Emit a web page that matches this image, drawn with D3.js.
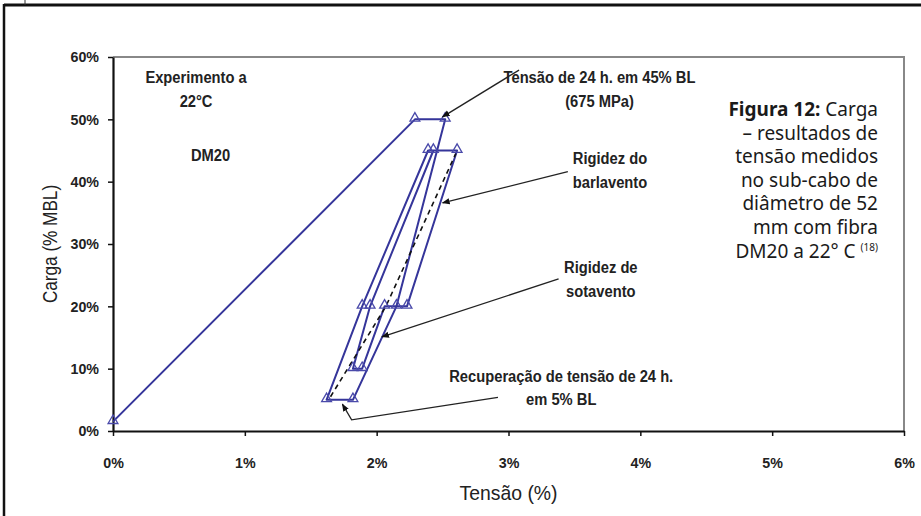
<!DOCTYPE html>
<html>
<head>
<meta charset="utf-8">
<script src="https://cdn.jsdelivr.net/npm/d3@7"></script>
<style>
  body { margin: 0; background: #fff; }
  svg { display: block; }
  .chart text { font-family: "Liberation Sans", Arial, sans-serif; fill: #222; }
  .caption text { font-family: "Noto Sans", "Open Sans", sans-serif; fill: #1a1a1a; }
</style>
</head>
<body>
<div id="container"></div>
<script>
/* CONSTANTS AND GLOBALS */
const width = 921;
const height = 516;
const margin = { top: 57, bottom: 85, left: 113, right: 17 };
const squeeze = 0.92; // slight horizontal squeeze of the chart lettering

/* DATA */
// load-strain path (strain %, load % MBL), in test order
const strain = [0.00, 2.29, 2.52, 2.15, 1.82, 1.62, 1.89, 2.39, 2.61, 2.23, 2.06, 1.89, 1.82, 1.95, 2.43];
const load   = [1.5, 50, 50, 20, 5, 5, 20, 45, 45, 20, 20, 10, 10, 20, 45];

// dashed stiffness fit
const fitStrain = [1.65, 2.07, 2.60];
const fitLoad   = [5.5, 20, 44.5];

const xTicks = [0, 1, 2, 3, 4, 5, 6];
const yTicks = [0, 10, 20, 30, 40, 50, 60];

const captionLines = [
  "– resultados de",
  "tensão medidos",
  "no sub-cabo de",
  "diâmetro de 52",
  "mm com fibra"
];

/* SCALES */
const xScale = d3.scaleLinear()
  .domain([0, 6])
  .range([margin.left, width - margin.right]);

const yScale = d3.scaleLinear()
  .domain([0, 60])
  .range([height - margin.bottom, margin.top]);

const svg = d3.select("#container")
  .append("svg")
  .attr("width", width)
  .attr("height", height);

svg.append("defs")
  .append("marker")
  .attr("id", "arrow")
  .attr("viewBox", "0 0 10 10")
  .attr("refX", 9)
  .attr("refY", 5)
  .attr("markerWidth", 6)
  .attr("markerHeight", 6)
  .attr("orient", "auto")
  .append("path")
  .attr("d", "M0,1 L10,5 L0,9 Z")
  .attr("fill", "#111");

// page frame
svg.append("line").attr("x1", 4).attr("x2", width).attr("y1", 5).attr("y2", 5)
  .attr("stroke", "#111").attr("stroke-width", 3);
svg.append("line").attr("x1", 4).attr("x2", 4).attr("y1", 4).attr("y2", height)
  .attr("stroke", "#111").attr("stroke-width", 2.5);
svg.append("line").attr("x1", 25).attr("x2", 25).attr("y1", 0).attr("y2", 5)
  .attr("stroke", "#333").attr("stroke-width", 1);

const chart = svg.append("g").attr("class", "chart");

// squeezed text helper
function note(parent, x, y, lines, size, weight, step, sx) {
  const g = parent.append("g")
    .attr("transform", `translate(${x},${y}) scale(${sx},1)`);
  const t = g.append("text")
    .attr("text-anchor", "middle")
    .style("font-size", size + "px")
    .style("font-weight", weight);
  lines.forEach((ln, i) => {
    t.append("tspan").attr("x", 0).attr("dy", i === 0 ? 0 : step).text(ln);
  });
  return g;
}

// plot border (top/right grey)
chart.append("path")
  .attr("d", `M${xScale(0)},${yScale(60)} H${xScale(6)} V${yScale(0)}`)
  .attr("fill", "none")
  .attr("stroke", "#888")
  .attr("stroke-width", 2);

/* AXES */
const xAxis = chart.append("g")
  .attr("transform", `translate(0,${yScale(0)})`)
  .call(d3.axisBottom(xScale).tickValues(xTicks).tickFormat(d => d + "%").tickSize(5).tickSizeOuter(0).tickPadding(21));

const yAxis = chart.append("g")
  .attr("transform", `translate(${xScale(0)},0)`)
  .call(d3.axisLeft(yScale).tickValues(yTicks).tickFormat(d => d + "%").tickSize(5).tickSizeOuter(0).tickPadding(10));

[xAxis, yAxis].forEach(ax => {
  ax.select(".domain").attr("stroke", "#111").attr("stroke-width", 2.2);
  ax.selectAll(".tick line").attr("stroke", "#111").attr("stroke-width", 1.5);
  ax.selectAll(".tick text")
    .attr("fill", "#222")
    .attr("transform", `scale(${squeeze},1)`)
    .style("font-family", '"Liberation Sans", Arial, sans-serif')
    .style("font-size", "15.5px")
    .style("font-weight", "bold");
});
yAxis.selectAll(".tick text").attr("x", -14 / squeeze);

note(chart, (xScale(0) + xScale(6)) / 2, 500, ["Tensão (%)"], 20, "normal", 0, 0.97);

chart.append("g")
  .attr("transform", `translate(57,${(yScale(0) + yScale(60)) / 2}) rotate(-90) scale(0.88,1)`)
  .append("text")
  .attr("text-anchor", "middle")
  .style("font-size", "19.5px")
  .text("Carga (% MBL)");

/* MARKS */
const pts = strain.map((s, i) => ({ s, l: load[i] }));

chart.append("path")
  .datum(pts)
  .attr("fill", "none")
  .attr("stroke", "#35359a")
  .attr("stroke-width", 2)
  .attr("stroke-linejoin", "round")
  .attr("d", d3.line().x(d => xScale(d.s)).y(d => yScale(d.l)));

chart.append("path")
  .datum(fitStrain.map((s, i) => ({ s, l: fitLoad[i] })))
  .attr("fill", "none")
  .attr("stroke", "#111")
  .attr("stroke-width", 1.6)
  .attr("stroke-dasharray", "5,4")
  .attr("d", d3.line().x(d => xScale(d.s)).y(d => yScale(d.l)));

chart.selectAll(".tri")
  .data(pts)
  .join("path")
  .attr("class", "tri")
  .attr("transform", d => `translate(${xScale(d.s)},${yScale(d.l) - 1})`)
  .attr("d", d3.symbol(d3.symbolTriangle, 42))
  .attr("fill", "none")
  .attr("stroke", "#4a4aaa")
  .attr("stroke-width", 1.3);

/* ANNOTATIONS */
// text anchors and arrow paths in data units (strain %, load %)
const notes = [
  { lines: ["Experimento a", "22°C"], s: 0.63, l: 55.8, arrow: null },
  { lines: ["DM20"], s: 0.74, l: 43.3, arrow: null },
  { lines: ["Tensão de 24 h. em 45% BL", "(675 MPa)"], s: 3.69, l: 55.8,
    arrow: [[3.08, 57.9], [2.50, 50.4]] },
  { lines: ["Rigidez do", "barlavento"], s: 3.77, l: 42.8,
    arrow: [[3.45, 41.6], [2.50, 36.6]] },
  { lines: ["Rigidez de", "sotavento"], s: 3.70, l: 25.3,
    arrow: [[3.38, 24.4], [2.04, 15.1]] },
  { lines: ["Recuperação de tensão de 24 h.", "em 5% BL"], s: 3.40, l: 7.9,
    arrow: [[2.92, 5.4], [1.81, 1.8], [1.74, 4.3]] }
];

notes.forEach(n => {
  note(chart, xScale(n.s), yScale(n.l), n.lines, 16, "bold", 23.5, squeeze);
  if (n.arrow) {
    chart.append("path")
      .attr("d", d3.line()(n.arrow.map(p => [xScale(p[0]), yScale(p[1])])))
      .attr("fill", "none")
      .attr("stroke", "#222")
      .attr("stroke-width", 1.3)
      .attr("marker-end", "url(#arrow)");
  }
});

/* CAPTION */
const cap = svg.append("g").attr("class", "caption");
const capX = 878;
const capY0 = 116;
const capStep = 23.6;
const capSize = 19;

const first = cap.append("text")
  .attr("x", capX).attr("y", capY0)
  .attr("text-anchor", "end")
  .style("font-size", capSize + "px");
first.append("tspan").style("font-weight", "bold").text("Figura 12:");
first.append("tspan").text(" Carga");

captionLines.forEach((ln, i) => {
  cap.append("text")
    .attr("x", capX).attr("y", capY0 + capStep * (i + 1))
    .attr("text-anchor", "end")
    .style("font-size", capSize + "px")
    .text(ln);
});

const last = cap.append("text")
  .attr("x", capX).attr("y", capY0 + capStep * 6)
  .attr("text-anchor", "end")
  .style("font-size", capSize + "px");
last.append("tspan").text("DM20 a 22° C ");
last.append("tspan").style("font-size", "10px").attr("dy", -7).text("(18)");
</script>
</body>
</html>
